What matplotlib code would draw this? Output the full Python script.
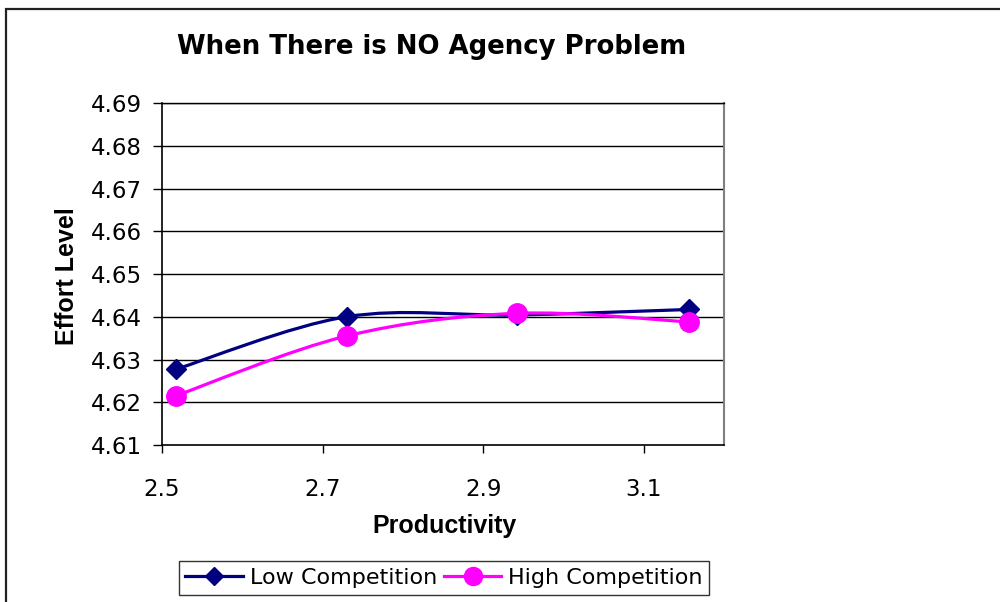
import matplotlib
matplotlib.use("Agg")
import matplotlib.pyplot as plt
from matplotlib.path import Path
from matplotlib.patches import PathPatch, Rectangle
from matplotlib.lines import Line2D

plt.rcParams['font.family'] = ['DejaVu Sans']

# Data
productivity = [2.517, 2.730, 2.942, 3.156]
low_competition = [4.6277, 4.6400, 4.6404, 4.6417]
high_competition = [4.6215, 4.6355, 4.6408, 4.6388]
series_names = ["Low Competition", "High Competition"]
x_ticks = [2.5, 2.7, 2.9, 3.1]
y_ticks = [4.61, 4.62, 4.63, 4.64, 4.65, 4.66, 4.67, 4.68, 4.69]

NAVY = "#000080"
MAGENTA = "#FF00FF"
BOLD_FONT = ['Liberation Sans', 'DejaVu Sans']


def smooth_path(xs, ys):
    """Excel-style smoothed line: cubic Bezier with Catmull-Rom control points."""
    pts = list(zip(xs, ys))
    n = len(pts)
    verts = [pts[0]]
    codes = [Path.MOVETO]
    for i in range(n - 1):
        p0 = pts[i - 1] if i > 0 else pts[i]
        p1 = pts[i]
        p2 = pts[i + 1]
        p3 = pts[i + 2] if i + 2 < n else pts[i + 1]
        c1 = (p1[0] + (p2[0] - p0[0]) / 6.0, p1[1] + (p2[1] - p0[1]) / 6.0)
        c2 = (p2[0] - (p3[0] - p1[0]) / 6.0, p2[1] - (p3[1] - p1[1]) / 6.0)
        verts += [c1, c2, p2]
        codes += [Path.CURVE4, Path.CURVE4, Path.CURVE4]
    return Path(verts, codes)


fig = plt.figure(figsize=(10, 6.02), dpi=100)
fig.patch.set_facecolor("white")

# Outer chart-area border (extends beyond right/bottom edges)
fig.patches.append(Rectangle((6 / 1000, -0.1), 1.2, 1 - 9 / 602 + 0.1,
                             transform=fig.transFigure, fill=False,
                             edgecolor="#222222", linewidth=1.6))

ax = fig.add_axes([0.162, 1 - 445 / 602, 0.562, (445 - 103) / 602])
ax.set_xlim(2.5, 3.2)
ax.set_ylim(4.61, 4.69)

for yv in y_ticks[1:]:
    ax.axhline(yv, color="black", linewidth=1.0, zorder=1)

for ys, col in [(low_competition, NAVY), (high_competition, MAGENTA)]:
    patch = PathPatch(smooth_path(productivity, ys), facecolor="none",
                      edgecolor=col, linewidth=2.3, zorder=3)
    ax.add_patch(patch)

ax.plot(productivity, low_competition, linestyle="none", marker="D",
        markersize=10.5, color=NAVY, zorder=4)
ax.plot(productivity, high_competition, linestyle="none", marker="o",
        markersize=14, color=MAGENTA, zorder=5)

ax.set_xticks(x_ticks)
ax.set_xticklabels([f"{v:.1f}" for v in x_ticks])
ax.set_yticks(y_ticks)
ax.set_yticklabels([f"{v:.2f}" for v in y_ticks])
ax.tick_params(axis="y", direction="out", length=6.5, width=1, pad=8,
               labelsize=16.5, colors="black")
ax.tick_params(axis="x", direction="out", length=6, width=1, pad=18,
               labelsize=16.5, colors="black")

for s in ["left", "bottom"]:
    ax.spines[s].set_color("black")
    ax.spines[s].set_linewidth(1.2)
ax.spines["right"].set_color("#808080")
ax.spines["right"].set_linewidth(1.5)
ax.spines["top"].set_color("black")
ax.spines["top"].set_linewidth(1.0)

fig.text(0.432, 1 - 47 / 602, "When There is NO Agency Problem",
         ha="center", va="center", fontsize=18.7, fontweight="bold")
fig.text(0.445, 1 - 526 / 602, "Productivity", ha="center", va="center",
         fontsize=18, fontweight="bold", family=BOLD_FONT)
fig.text(0.067, 1 - 276 / 602, "Effort Level", ha="center", va="center",
         fontsize=18, fontweight="bold", rotation=90, family=BOLD_FONT)

handles = [
    Line2D([], [], color=NAVY, linewidth=2.3, marker="D", markersize=9.5),
    Line2D([], [], color=MAGENTA, linewidth=2.3, marker="o", markersize=13),
]
leg = fig.legend(handles, series_names, loc="center",
                 bbox_to_anchor=(0.444, 1 - 578 / 602), ncol=2, fontsize=16,
                 frameon=True, fancybox=False, edgecolor="black",
                 handlelength=2.6, handletextpad=0.3, columnspacing=0.3,
                 borderpad=0.3, borderaxespad=0)
leg.get_frame().set_linewidth(1.0)

fig.savefig("out.png", dpi=100, facecolor="white")
